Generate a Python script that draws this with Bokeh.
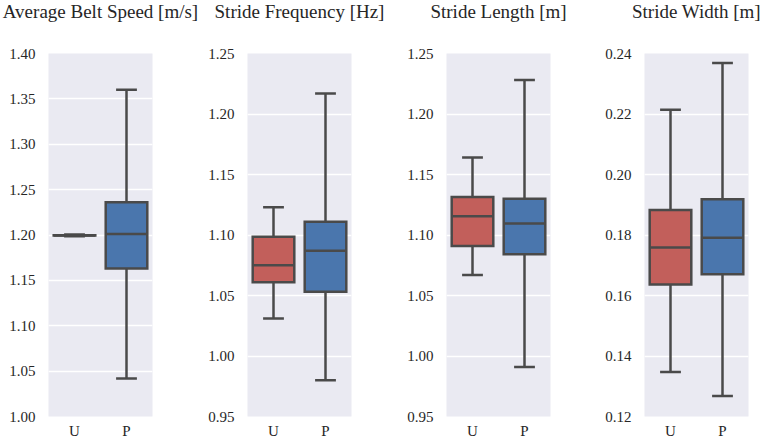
from bokeh.plotting import figure
from bokeh.layouts import row
from bokeh.models import FixedTicker, Range1d, PrintfTickFormatter, Title
from bokeh.embed import file_html
from bokeh.resources import INLINE

categories = ["U", "P"]
titles = ["Average Belt Speed [m/s]", "Stride Frequency [Hz]",
          "Stride Length [m]", "Stride Width [m]"]

# Box statistics per panel, order [U, P]
speed_lower = [1.1985, 1.042]
speed_q1 = [1.1994, 1.163]
speed_median = [1.1995, 1.201]
speed_q3 = [1.1997, 1.236]
speed_upper = [1.2006, 1.360]

freq_lower = [1.031, 0.980]
freq_q1 = [1.061, 1.053]
freq_median = [1.075, 1.087]
freq_q3 = [1.0985, 1.111]
freq_upper = [1.123, 1.217]

length_lower = [1.067, 0.991]
length_q1 = [1.091, 1.084]
length_median = [1.1155, 1.1095]
length_q3 = [1.1315, 1.130]
length_upper = [1.164, 1.228]

width_lower = [0.1347, 0.1268]
width_q1 = [0.1636, 0.1670]
width_median = [0.1759, 0.1791]
width_q3 = [0.1883, 0.1918]
width_upper = [0.2214, 0.2369]

speed_ticks = [1.00, 1.05, 1.10, 1.15, 1.20, 1.25, 1.30, 1.35, 1.40]
freq_ticks = [0.95, 1.00, 1.05, 1.10, 1.15, 1.20, 1.25]
length_ticks = [0.95, 1.00, 1.05, 1.10, 1.15, 1.20, 1.25]
width_ticks = [0.12, 0.14, 0.16, 0.18, 0.20, 0.22, 0.24]

box_colors = ["#c25f5b", "#4a76ad"]
line_gray = "#4a4a4a"
FONT = "Liberation Serif"
TEXT = "#262626"

panels = [
    (speed_lower, speed_q1, speed_median, speed_q3, speed_upper, speed_ticks),
    (freq_lower, freq_q1, freq_median, freq_q3, freq_upper, freq_ticks),
    (length_lower, length_q1, length_median, length_q3, length_upper, length_ticks),
    (width_lower, width_q1, width_median, width_q3, width_upper, width_ticks),
]
right_borders = [47, 47, 46, 13]
FRAME_H = 363

figs = []
for i, (lo, q1, med, q3, up, ticks) in enumerate(panels):
    p = figure(frame_width=104, frame_height=FRAME_H,
               x_range=Range1d(-0.5, 1.5),
               y_range=Range1d(ticks[0], ticks[-1]),
               output_backend="svg", toolbar_location=None,
               min_border_left=48, min_border_right=right_borders[i],
               min_border_top=52, min_border_bottom=24)

    p.background_fill_color = "#EAEAF2"
    p.border_fill_color = "white"
    p.outline_line_color = None
    p.xgrid.visible = False
    p.ygrid.grid_line_color = "white"
    p.ygrid.grid_line_width = 1.5
    p.ygrid.ticker = FixedTicker(ticks=ticks)

    for ax in (p.xaxis[0], p.yaxis[0]):
        ax.axis_line_color = None
        ax.major_tick_line_color = None
        ax.minor_tick_line_color = None
        ax.major_tick_out = 0
        ax.major_tick_in = 0
        ax.minor_tick_out = 0
        ax.minor_tick_in = 0
        ax.major_label_text_font = FONT
        ax.major_label_text_font_size = "15px"
        ax.major_label_text_color = TEXT

    xs = list(range(len(categories)))
    p.xaxis.ticker = FixedTicker(ticks=xs)
    p.xaxis.major_label_overrides = {x: c for x, c in zip(xs, categories)}
    p.xaxis.major_label_standoff = 6
    p.yaxis.ticker = FixedTicker(ticks=ticks)
    p.yaxis.formatter = PrintfTickFormatter(format="%.2f")
    p.yaxis.major_label_standoff = 13

    # blank spacer title next to the frame, then the real title above it
    p.add_layout(Title(text=" ", text_font=FONT, text_font_size="1px",
                       text_color="white", standoff=27), "above")
    p.add_layout(Title(text=titles[i], text_font=FONT, text_font_size="19px",
                       text_font_style="normal", text_color=TEXT,
                       align="center", vertical_align="top", standoff=0),
                 "above")

    lw = 2.5
    p.segment(xs, up, xs, q3, line_color=line_gray, line_width=lw)
    p.segment(xs, lo, xs, q1, line_color=line_gray, line_width=lw)
    p.segment([x - 0.2 for x in xs], up, [x + 0.2 for x in xs], up,
              line_color=line_gray, line_width=lw)
    p.segment([x - 0.2 for x in xs], lo, [x + 0.2 for x in xs], lo,
              line_color=line_gray, line_width=lw)
    p.vbar(x=xs, width=0.8, top=q3, bottom=q1, fill_color=box_colors,
           line_color=line_gray, line_width=lw, line_join="miter")
    p.segment([x - 0.4 for x in xs], med, [x + 0.4 for x in xs], med,
              line_color=line_gray, line_width=lw)
    figs.append(p)

layout = row(*figs)
open("out.html", "w").write(file_html(layout, INLINE))
